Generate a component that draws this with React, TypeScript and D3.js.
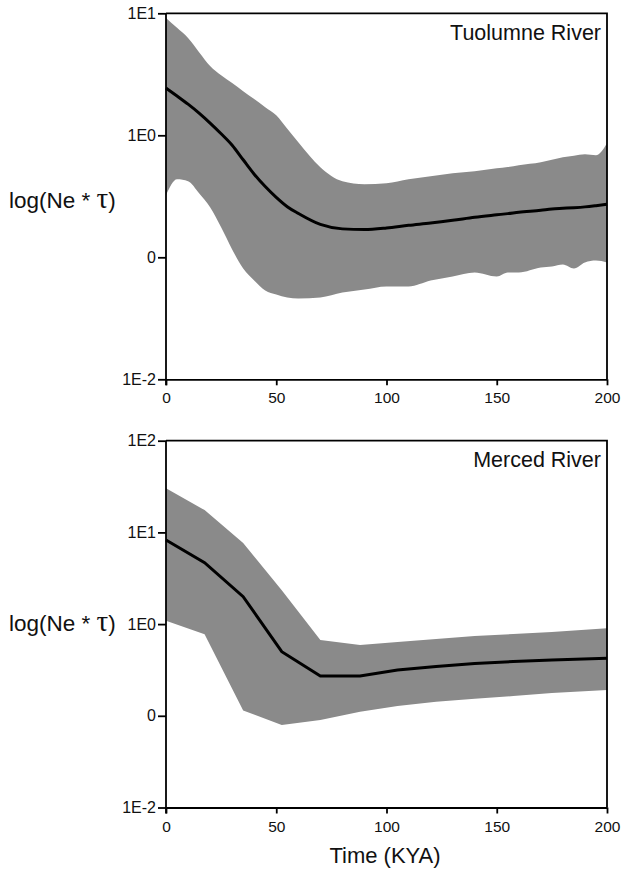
import React, { useEffect, useRef } from 'react';
import * as d3 from 'd3';

// Tuolumne River (top panel)
const tuolTime = [0, 5, 10, 15, 20, 25, 30, 35, 40, 45, 50, 55, 60, 70, 80, 90, 100, 110, 120, 130, 140, 150, 155, 160, 170, 175, 180, 185, 190, 195, 200];
const tuolMedian = [2.44, 2.1, 1.8, 1.52, 1.26, 1.03, 0.83, 0.63, 0.48, 0.38, 0.31, 0.26, 0.229, 0.186, 0.171, 0.169, 0.174, 0.183, 0.191, 0.201, 0.213, 0.223, 0.228, 0.234, 0.243, 0.249, 0.252, 0.255, 0.259, 0.265, 0.272];
const tuolUpper = [9.15, 7.6, 6.27, 4.8, 3.69, 3.1, 2.68, 2.3, 1.98, 1.7, 1.46, 1.13, 0.877, 0.547, 0.42, 0.397, 0.404, 0.436, 0.461, 0.489, 0.507, 0.537, 0.55, 0.569, 0.601, 0.63, 0.661, 0.68, 0.7, 0.687, 0.861];
const tuolLower = [0.322, 0.436, 0.42, 0.335, 0.257, 0.176, 0.116, 0.081, 0.0646, 0.0535, 0.0496, 0.0469, 0.046, 0.0469, 0.0515, 0.0545, 0.0577, 0.0577, 0.0646, 0.0697, 0.0752, 0.0697, 0.0752, 0.0752, 0.0826, 0.0842, 0.0875, 0.0811, 0.0908, 0.094, 0.0908];

// Merced River (bottom panel)
const mercTime = [0, 17.5, 35, 52.5, 70, 88, 105, 122.5, 140, 157.5, 175, 200];
const mercMedian = [8.26, 4.68, 1.99, 0.5, 0.272, 0.272, 0.316, 0.345, 0.372, 0.391, 0.406, 0.424];
const mercUpper = [30.3, 17.5, 7.66, 2.34, 0.67, 0.591, 0.638, 0.687, 0.741, 0.779, 0.82, 0.9];
const mercLower = [1.09, 0.774, 0.114, 0.0794, 0.09, 0.111, 0.128, 0.142, 0.153, 0.164, 0.177, 0.191];

const xTicks = [0, 50, 100, 150, 200];
const topTickValues = [10, 1, 0.1, 0.01];
const topTickLabels = ['1E1', '1E0', '0', '1E-2'];
const botTickValues = [100, 10, 1, 0.1, 0.01];
const botTickLabels = ['1E2', '1E1', '1E0', '0', '1E-2'];

const FONT = 'Liberation Sans, Arial, sans-serif';

function App() {
    const ref = useRef<SVGSVGElement>(null);

    useEffect(() => {
        const svg = d3.select(ref.current);
        svg.selectAll('*').remove();

        const x = d3.scaleLinear().domain([0, 200]).range([166, 607]);

        const panels = [
            {
                title: 'Tuolumne River', time: tuolTime, med: tuolMedian, up: tuolUpper, lo: tuolLower,
                domain: [0.01, 10], range: [379.3, 13.3], ticks: topTickValues, labels: topTickLabels,
                curve: d3.curveMonotoneX, labelY: 200, titleY: 40,
            },
            {
                title: 'Merced River', time: mercTime, med: mercMedian, up: mercUpper, lo: mercLower,
                domain: [0.01, 100], range: [807.5, 440.7], ticks: botTickValues, labels: botTickLabels,
                curve: d3.curveLinear, labelY: 623, titleY: 467,
            },
        ];

        panels.forEach((p) => {
            const y = d3.scaleLog().domain(p.domain).range(p.range);
            const g = svg.append('g');
            const rows = p.time.map((t, i) => ({ t, m: p.med[i], u: p.up[i], l: p.lo[i] }));

            // banda de confianza
            const band = d3.area<any>().x((d) => x(d.t)).y0((d) => y(d.l)).y1((d) => y(d.u)).curve(p.curve);
            g.append('path').attr('d', band(rows)).attr('fill', '#8a8a8a');

            // mediana
            const line = d3.line<any>().x((d) => x(d.t)).y((d) => y(d.m)).curve(p.curve);
            g.append('path').attr('d', line(rows)).attr('fill', 'none')
                .attr('stroke', '#000').attr('stroke-width', 3);

            // marco
            g.append('path')
                .attr('d', `M${x(0)},${y.range()[1]}H${x(200)}V${y.range()[0]}`)
                .attr('fill', 'none').attr('stroke', '#000').attr('stroke-width', 1.8);

            const yAxis = d3.axisLeft(y).tickValues(p.ticks)
                .tickFormat((d, i) => p.labels[i]).tickSize(8).tickSizeOuter(0).tickPadding(2);
            const ya = g.append('g').attr('transform', `translate(${x(0)},0)`).call(yAxis);

            const xAxis = d3.axisBottom(x).tickValues(xTicks)
                .tickFormat(d3.format('d')).tickSize(6).tickSizeOuter(0).tickPadding(7);
            const xa = g.append('g').attr('transform', `translate(0,${y.range()[0]})`).call(xAxis);

            [ya, xa].forEach((a) => {
                a.selectAll('path, line').attr('stroke', '#000').attr('stroke-width', 1.8);
                a.selectAll('text').attr('font-family', FONT).attr('fill', '#111');
            });
            ya.selectAll('text').attr('font-size', 16);
            xa.selectAll('text').attr('font-size', 15.5);
            ya.select('.domain').attr('d', `M0,${y.range()[0] + 6}V${y.range()[1]}`);

            g.append('text').attr('x', 601).attr('y', p.titleY).attr('text-anchor', 'end')
                .attr('font-family', FONT).attr('font-size', 21.5).attr('fill', '#111').text(p.title);

            const lab = g.append('text').attr('x', 9).attr('y', p.labelY).attr('dy', '0.35em')
                .attr('font-family', FONT).attr('font-size', 22.5).attr('fill', '#111');
            lab.append('tspan').text('log(Ne * ');
            lab.append('tspan').attr('font-family', 'Liberation Serif, serif').attr('font-size', 29).text('τ');
            lab.append('tspan').text(')');
        });

        svg.append('text').attr('x', 385).attr('y', 863).attr('text-anchor', 'middle')
            .attr('font-family', FONT).attr('font-size', 22).attr('fill', '#111').text('Time (KYA)');
    }, []);

    return (
        <svg ref={ref} width={622} height={869}
            style={{ position: 'absolute', left: 0, top: 0, background: '#fff' }} />
    );
}

export default App;
